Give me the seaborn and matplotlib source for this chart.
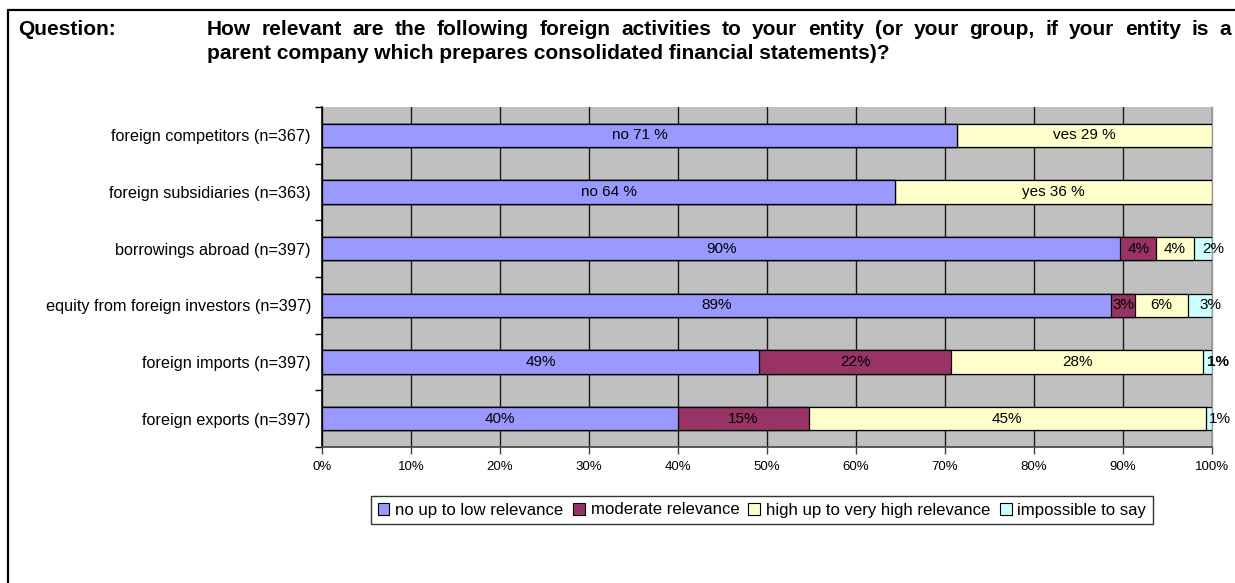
import matplotlib
matplotlib.use("Agg")
import matplotlib.pyplot as plt
from matplotlib.lines import Line2D
from matplotlib.patches import Patch
from matplotlib.ticker import FixedLocator
import seaborn as sns
import pandas as pd
import numpy as np

# ---- data -------------------------------------------------------------
categories = [
    "foreign competitors (n=367)",
    "foreign subsidiaries (n=363)",
    "borrowings abroad (n=397)",
    "equity from foreign investors (n=397)",
    "foreign imports (n=397)",
    "foreign exports (n=397)",
]
no_to_low = [71.4, 64.4, 89.7, 88.7, 49.1, 40.0]
moderate = [0.0, 0.0, 4.0, 2.6, 21.6, 14.7]
high_to_very_high = [28.6, 35.6, 4.3, 6.0, 28.3, 44.6]
impossible = [0.0, 0.0, 2.0, 2.7, 1.0, 0.7]

series_names = [
    "no up to low relevance",
    "moderate relevance",
    "high up to very high relevance",
    "impossible to say",
]
# rows answered only with yes / no carry their answer word in the label
answer_words = {
    "foreign competitors (n=367)": ("no", "ves"),
    "foreign subsidiaries (n=363)": ("no", "yes"),
}
x_ticks = [0, 10, 20, 30, 40, 50, 60, 70, 80, 90, 100]

question_label = "Question:"
question_line1 = ("How relevant are the following foreign activities to your entity "
                  "(or your group, if your entity is a")
question_line2 = "parent company which prepares consolidated financial statements)?"

# ---- style ------------------------------------------------------------
colors = ["#9999FF", "#993366", "#FFFFCC", "#CCFFFF"]
font = ["Liberation Sans", "DejaVu Sans"]

sns.set_theme(style="white")
plt.rcParams["font.family"] = font
plt.rcParams["text.color"] = "black"
plt.rcParams["xtick.color"] = "black"
plt.rcParams["ytick.color"] = "black"

W, H = 1235, 583
fig = plt.figure(figsize=(W / 100, H / 100), dpi=100)
ax = fig.add_axes([322 / W, 1 - 447 / H, (1212 - 322) / W, (447 - 107) / H])
ax.set_facecolor("#C0C0C0")

values = np.array([no_to_low, moderate, high_to_very_high, impossible])
cum = np.cumsum(values, axis=0)

# stacked bars: draw cumulative totals from the outermost segment inward
for k in range(len(series_names) - 1, -1, -1):
    df = pd.DataFrame({"category": categories, "value": cum[k]})
    sns.barplot(data=df, x="value", y="category", orient="h", order=categories,
                color=colors[k], saturation=1, width=0.41,
                edgecolor="black", linewidth=0.9, ax=ax, zorder=3)

# segment labels
for i, cat in enumerate(categories):
    for k in range(len(series_names)):
        v = values[k, i]
        if v <= 0:
            continue
        start = cum[k, i] - v
        center = start + v / 2
        txt = f"{round(v):d}%"
        if cat in answer_words:
            word = answer_words[cat][0 if k == 0 else 1]
            txt = f"{word} {round(v):d} %"
        if k == 3:
            ax.text(center - 0.05, i, txt, ha="left", va="center", fontsize=11,
                    fontweight="bold" if cat == "foreign imports (n=397)" else "normal",
                    zorder=5, clip_on=False)
        else:
            ax.text(center, i, txt, ha="center", va="center", fontsize=11, zorder=5)

# axes, grid and ticks
ax.set_xlim(0, 100)
ax.set_ylim(len(categories) - 0.5, -0.5)
ax.set_xticks(x_ticks)
ax.set_xticklabels([f"{t}%" for t in x_ticks], fontsize=9.5)
ax.xaxis.grid(True, color="#1a1a1a", linewidth=1.0, zorder=1)
ax.set_axisbelow(True)
ax.yaxis.grid(False)
ax.set_xlabel("")
ax.set_ylabel("")
ax.set_yticks(range(len(categories)))
ax.set_yticklabels(categories, fontsize=11.7)
ax.tick_params(axis="y", length=0, pad=8)
ax.yaxis.set_minor_locator(FixedLocator(np.arange(-0.5, len(categories) + 0.5, 1)))
ax.tick_params(axis="y", which="minor", length=5, color="black", width=1,
               direction="out", left=True)
ax.tick_params(axis="x", length=5, color="#404040", width=1, direction="out",
               bottom=True, pad=5)
ax.spines["top"].set_visible(False)
ax.spines["left"].set_color("black")
ax.spines["left"].set_linewidth(1.2)
ax.spines["bottom"].set_color("#404040")
ax.spines["bottom"].set_linewidth(1.2)
ax.spines["right"].set_color("#9a9a9a")
ax.spines["right"].set_linewidth(1.0)

# legend
handles = [Patch(facecolor=c, edgecolor="black", linewidth=0.8) for c in colors]
leg = fig.legend(handles, series_names, loc="center", bbox_to_anchor=(762 / W, 1 - 510 / H),
                 ncol=4, frameon=True, fancybox=False, shadow=False, borderpad=0.4,
                 handlelength=0.7, handleheight=0.7, handletextpad=0.35,
                 columnspacing=0.55, prop={"size": 12.1})
leg.get_frame().set_edgecolor("black")
leg.get_frame().set_linewidth(1.0)

# heading: label, a justified first line and a ragged second line
head = dict(fontsize=15, fontweight="bold", va="baseline", ha="left")
fig.text(18 / W, 1 - 35 / H, question_label, **head)
fig.text(207 / W, 1 - 59 / H, question_line2, **head)

fig.canvas.draw()
renderer = fig.canvas.get_renderer()
words = question_line1.split()
word_texts = [fig.text(0, 1 - 35 / H, w, **head) for w in words]
widths = [t.get_window_extent(renderer).width for t in word_texts]
line_start, line_end = 207, 1231
gap = (line_end - line_start - sum(widths)) / (len(words) - 1)
xpos = line_start
for t, w in zip(word_texts, widths):
    t.set_x(xpos / W)
    xpos += w + gap

# frame lines round the sheet
fig.add_artist(Line2D([8 / W, 1], [1 - 10 / H, 1 - 10 / H], color="black", linewidth=1.6))
fig.add_artist(Line2D([8 / W, 8 / W], [0, 1 - 10 / H], color="black", linewidth=1.6))

fig.savefig("out.png", dpi=100)
